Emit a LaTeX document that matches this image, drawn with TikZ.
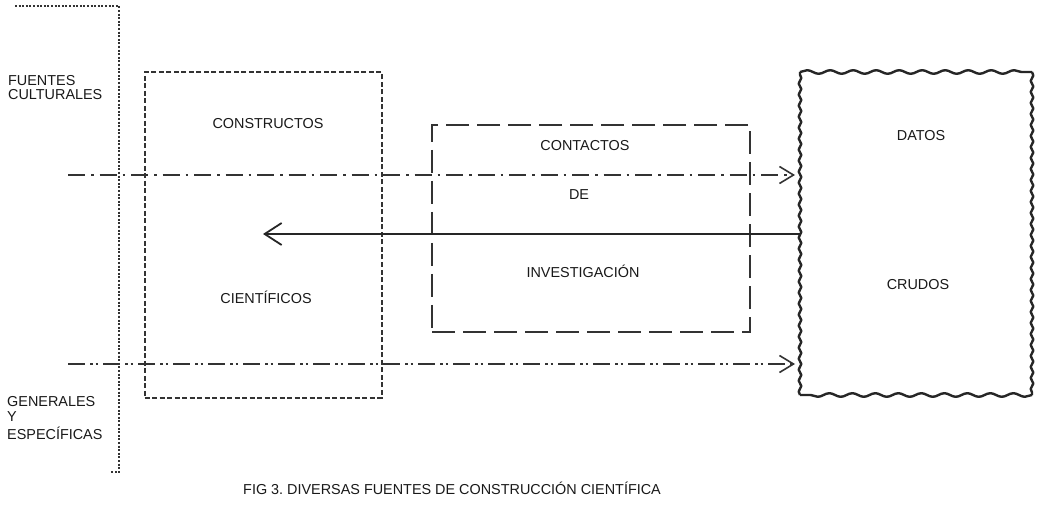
\documentclass[tikz,border=0pt]{standalone}
\usepackage{fontspec}
\setmainfont{Liberation Sans}
\usetikzlibrary{arrows.meta,decorations.pathmorphing}
\frenchspacing
\begin{document}
\begin{tikzpicture}[x=1pt,y=-1pt,
  lbl/.style={font=\fontsize{14.4}{16}\selectfont, inner sep=0pt, anchor=base, text=black!90},
  lblw/.style={lbl, anchor=base west},
  borderline/.style={line width=2.4pt, dash pattern=on 2pt off 1.6pt, black!80},
  boxA/.style={draw, line width=2pt, dash pattern=on 5pt off 2.5pt, black!80, inner sep=0pt, outer sep=0pt},
  boxB/.style={draw, line width=2pt, dash pattern=on 23pt off 8pt, black!80, inner sep=0pt, outer sep=0pt},
  boxC/.style={draw=none, inner sep=0pt, outer sep=0pt},
  wavyH/.style={decorate, decoration={snake, segment length=23pt, amplitude=1.8pt}},
  wavyV/.style={decorate, decoration={snake, segment length=11pt, amplitude=1.3pt}},
  wavyline/.style={line width=2.4pt, black!85, line join=round},
  flowA/.style={line width=2pt, dash pattern=on 17pt off 6pt on 2.5pt off 6pt, black!80,
     -{Straight Barb[length=14pt,width=17pt,line width=1.6pt]}, shorten >=5pt},
  flowB/.style={line width=2pt, dash pattern=on 17pt off 5pt on 2.5pt off 3pt on 2.5pt off 5pt, black!80,
     -{Straight Barb[length=14pt,width=17pt,line width=1.6pt]}, shorten >=5pt},
  back/.style={line width=1.8pt, black!85, -{Straight Barb[length=17pt,width=22pt,line width=1.8pt]}}
]
\fill[white] (0,0) rectangle (1042,505);
\useasboundingbox (0,0) rectangle (1042,505);

% left dotted border
\coordinate (dTL) at (15,6);
\coordinate (dTR) at (119,6);
\coordinate (dB) at (119,472);
\coordinate (dBL) at (110,472);
\draw[borderline] (dTL) -- (dTR) -- (dB) -- (dBL);

% boxes
\node[boxA, minimum width=237pt, minimum height=325pt] (A) at (263,235) {};
\node[boxB, minimum width=318pt, minimum height=207pt] (B) at (591,228.5) {};
\node[boxC, minimum width=232pt, minimum height=323pt] (C) at (916,233.5) {};
\draw[wavyline]
  decorate[wavyH]{(C.north west) -- (C.north east)}
  decorate[wavyV]{(C.north east) -- (C.south east)}
  decorate[wavyH]{(C.south east) -- (C.south west)}
  decorate[wavyV]{(C.south west) -- (C.north west)};

% texts
\node[lbl] (t1) at (268,129) {CONSTRUCTOS};
\node[lbl] (t2) at (266,303) {CIENTÍFICOS};
\node[lbl] (t3) at (585,151) {CONTACTOS};
\node[lbl] (t4) at (579,200) {DE};
\node[lbl] (t5) at (583,277) {INVESTIGACIÓN};
\node[lbl] (t6) at (921,141) {DATOS};
\node[lbl] (t7) at (918,290) {CRUDOS};
\node[lblw] (l1) at (8,86) {FUENTES};
\node[lblw] (l2) at (8,100) {CULTURALES};
\node[lblw] (l3) at (7,406) {GENERALES};
\node[lblw] (l4) at (7,421) {Y};
\node[lblw] (l5) at (7,439) {ESPECÍFICAS};
\node[lblw] (cap) at (243,494) {FIG 3. DIVERSAS FUENTES DE CONSTRUCCIÓN CIENTÍFICA};

% flows
\coordinate (s1) at (68,175);
\coordinate (s2) at (68,364);
\coordinate (e3) at (263,234);
\draw[flowA] (s1) -- (C.west |- s1);
\draw[flowB] (s2) -- (C.west |- s2);
\draw[back] (C.west |- e3) -- (e3);
\end{tikzpicture}
\end{document}
